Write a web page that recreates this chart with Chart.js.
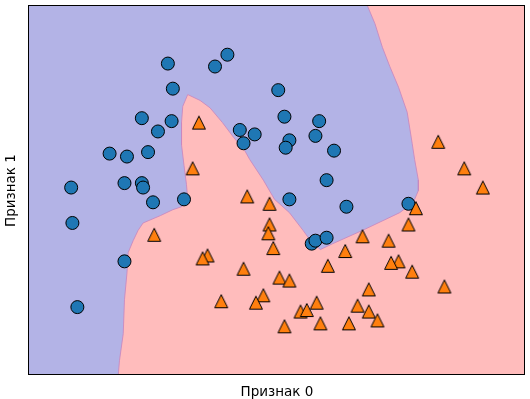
<!DOCTYPE html>
<html><head><meta charset="utf-8">
<script src="https://cdn.jsdelivr.net/npm/chart.js@4/dist/chart.umd.min.js"></script>
<style>html,body{margin:0;padding:0;background:#fff;overflow:hidden}canvas{display:block}</style>
</head><body><canvas id="c" width="530" height="399" style="width:530px;height:399px"></canvas>
<script>
// Axis labels and ranges
const xAxisLabel = 'Признак 0';
const yAxisLabel = 'Признак 1';
const xRange = [-1.5, 2.5];
const yRange = [-1.0, 1.5];

// Class 0 (circles)
const class0X = [-0.38, 0.00, 0.10, -0.34, 0.51, -0.59, -0.35, -0.46, 0.56, 0.84, 0.20, 0.32, 0.23, 0.60, 0.57, 0.81, 0.96, -0.85, -0.71, -0.54, -1.16, -0.73, -0.59, -0.58, -0.50, -0.25, 0.90, 0.60, 1.06, 1.56, -1.15, -0.73, -1.11, 0.78, 0.81, 0.90];
const class0Y = [1.11, 1.09, 1.17, 0.94, 0.93, 0.74, 0.72, 0.65, 0.75, 0.72, 0.66, 0.63, 0.57, 0.59, 0.54, 0.62, 0.52, 0.50, 0.48, 0.51, 0.27, 0.30, 0.30, 0.27, 0.17, 0.19, 0.32, 0.19, 0.14, 0.16, 0.03, -0.23, -0.54, -0.11, -0.09, -0.07];

// Class 1 (triangles)
const class1X = [-0.13, -0.18, 0.26, 0.44, 0.44, 0.43, 0.47, -0.49, -0.06, -0.10, 0.23, 0.05, 0.39, 0.33, 0.52, 0.60, 0.56, 0.69, 0.74, 0.82, 0.85, 0.91, 1.05, 1.19, 1.40, 1.48, 1.42, 1.59, 1.56, 1.62, 1.24, 1.15, 1.24, 1.31, 1.08, 1.85, 1.80, 2.01, 2.16];
const class1Y = [0.71, 0.40, 0.21, 0.16, 0.02, -0.04, -0.14, -0.05, -0.19, -0.21, -0.28, -0.50, -0.46, -0.51, -0.34, -0.36, -0.67, -0.57, -0.56, -0.51, -0.65, -0.26, -0.16, -0.06, -0.09, -0.23, -0.24, -0.30, 0.02, 0.13, -0.42, -0.53, -0.57, -0.63, -0.65, -0.40, 0.58, 0.40, 0.27];

// Decision region of class 0 (outline; first and last points are plot corners)
const regionX = [-1.5, 1.23, 1.29, 1.35, 1.41, 1.48, 1.55, 1.59, 1.61, 1.64, 1.64, 1.60, 1.49, 1.19, 0.95, 0.85, 0.77, 0.71, 0.60, 0.48, 0.39, 0.28, 0.24, 0.15, 0.06, -0.04, -0.12, -0.22, -0.26, -0.27, -0.27, -0.25, -0.23, -0.22, -0.27, -0.34, -0.44, -0.58, -0.62, -0.66, -0.70, -0.71, -0.73, -0.74, -0.77, -0.78, -1.5];
const regionY = [1.5, 1.5, 1.38, 1.22, 1.09, 0.95, 0.78, 0.57, 0.46, 0.32, 0.25, 0.17, 0.10, -0.02, -0.11, -0.15, -0.09, -0.02, 0.10, 0.19, 0.32, 0.46, 0.52, 0.61, 0.71, 0.81, 0.86, 0.90, 0.82, 0.71, 0.56, 0.42, 0.29, 0.19, 0.14, 0.12, 0.08, 0.03, -0.02, -0.09, -0.17, -0.31, -0.49, -0.72, -0.90, -1.0, -1.0];

const toPoints = (xs, ys) => xs.map((x, i) => ({x, y: ys[i]}));
const regionPoints = toPoints(regionX, regionY);
const boundaryPoints = regionPoints.slice(1, regionPoints.length - 1);

function triangleMarker(size, fill) {
  const dim = 20;
  const c = document.createElement('canvas');
  c.width = dim; c.height = dim;
  const g = c.getContext('2d');
  const cx = dim / 2, h = size / 2;
  g.beginPath();
  g.moveTo(cx, cx - h);
  g.lineTo(cx - h, cx + h);
  g.lineTo(cx + h, cx + h);
  g.closePath();
  g.fillStyle = fill; g.fill();
  g.lineWidth = 1; g.strokeStyle = '#000'; g.lineJoin = 'miter';
  g.stroke();
  return c;
}

const bgPlugin = {
  id: 'bgPlugin',
  beforeDraw(chart) {
    const {ctx, chartArea: a} = chart;
    ctx.save();
    ctx.fillStyle = '#ffbcbc';
    ctx.fillRect(a.left, a.top, a.right - a.left, a.bottom - a.top);
    ctx.restore();
  },
  afterDraw(chart) {
    const {ctx, chartArea: a} = chart;
    ctx.save();
    ctx.strokeStyle = '#000';
    ctx.lineWidth = 1;
    const l = Math.round(a.left) - 0.5, t = Math.round(a.top) - 0.5;
    const r = Math.round(a.right) - 0.5, b = Math.round(a.bottom) - 0.5;
    ctx.strokeRect(l, t, r - l, b - t);
    ctx.restore();
  }
};

new Chart(document.getElementById('c'), {
  type: 'scatter',
  data: {
    datasets: [
      {
        label: 'class1',
        data: toPoints(class1X, class1Y),
        pointStyle: triangleMarker(13, '#ff7f0e'),
        pointRadius: 7,
        backgroundColor: '#ff7f0e',
        borderColor: '#000',
        order: 0
      },
      {
        label: 'class0',
        data: toPoints(class0X, class0Y),
        pointStyle: 'circle',
        pointRadius: 6.5,
        borderWidth: 1,
        backgroundColor: '#1f77b4',
        borderColor: '#000',
        order: 1
      },
      {
        label: 'boundary',
        data: boundaryPoints,
        showLine: true,
        pointRadius: 0,
        tension: 0,
        fill: false,
        borderColor: 'rgba(200,135,190,0.85)',
        borderWidth: 1,
        order: 2
      },
      {
        label: 'region0',
        data: regionPoints,
        showLine: true,
        pointRadius: 0,
        tension: 0,
        fill: 'shape',
        backgroundColor: '#b3b3e6',
        borderColor: 'rgba(0,0,0,0)',
        borderWidth: 0,
        order: 3
      }
    ]
  },
  options: {
    responsive: false,
    devicePixelRatio: 1,
    animation: false,
    events: [],
    layout: { autoPadding: false, padding: { left: 0, top: 6, right: 5, bottom: 0 } },
    plugins: { legend: { display: false }, tooltip: { enabled: false } },
    scales: {
      x: {
        type: 'linear', min: xRange[0], max: xRange[1],
        grid: { display: false, drawTicks: false, tickLength: 0 }, border: { display: false },
        ticks: { display: false },
        title: { display: true, text: xAxisLabel, color: '#000',
                 font: { family: 'DejaVu Sans', size: 13.5, lineHeight: 1.0 },
                 padding: { top: 10.5, bottom: 0 } }
      },
      y: {
        type: 'linear', min: yRange[0], max: yRange[1],
        grid: { display: false, drawTicks: false, tickLength: 0 }, border: { display: false },
        ticks: { display: false },
        title: { display: true, text: yAxisLabel, color: '#000',
                 font: { family: 'DejaVu Sans', size: 13.5, lineHeight: 1.0 },
                 padding: { top: 5, bottom: 10.5 } }
      }
    }
  },
  plugins: [bgPlugin]
});
</script>
</body></html>
